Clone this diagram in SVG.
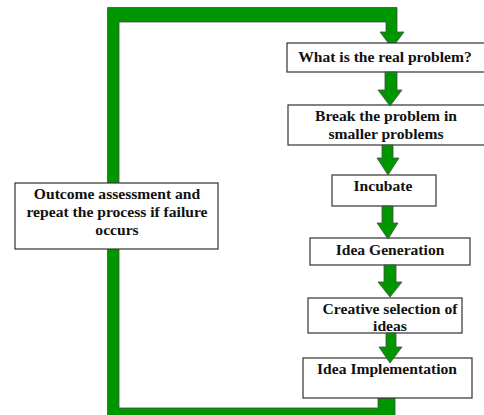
<svg xmlns="http://www.w3.org/2000/svg" width="484" height="415" viewBox="0 0 484 415">
<style>
.box{fill:#fff;stroke:#333;stroke-width:1.2}
.arr{fill:#009600;stroke:#4a4a4a;stroke-width:0.8}
text{font-family:"Liberation Serif","Times New Roman",serif;font-weight:bold;font-size:15.6px;fill:#111;text-anchor:middle}
</style>
<rect width="484" height="415" fill="#fff"/>
<g id="connectors">
<path id="loop" class="arr" d="M107.5,7.5 H397 V32 H404 L392,48 L380,32 H386 V22 H119 V408 H378 V398 H395 V418 H107.5 Z"/>
</g>
<g id="n1"><rect class="box" x="287" y="43" width="210" height="29"/><text x="385" y="62">What is the real problem?</text></g>
<g id="n2"><rect class="box" x="288" y="105" width="210" height="40"/><text x="386" y="121">Break the problem in</text><text x="386" y="139">smaller problems</text></g>
<g id="n3"><rect class="box" x="332" y="175" width="104" height="31"/><text x="383" y="191">Incubate</text></g>
<g id="n4"><rect class="box" x="310" y="238" width="160" height="27"/><text x="390" y="255">Idea Generation</text></g>
<g id="n5"><rect class="box" x="308" y="298" width="154" height="35"/><text x="390" y="314">Creative selection of</text><text x="390" y="331">ideas</text></g>
<g id="n6"><rect class="box" x="303" y="358" width="169" height="40"/></g>
<g id="n7"><rect class="box" x="15" y="183" width="203" height="66"/><text x="117" y="199">Outcome assessment and</text><text x="117" y="217">repeat the process if failure</text><text x="117" y="235">occurs</text></g>
<g id="arrows">
<path class="arr" d="M385,72 H397 V90 H402 L390,106 L378,90 H385 Z"/>
<path class="arr" d="M382,145 H393 V158 H399 L388,175 L377,158 H382 Z"/>
<path class="arr" d="M382,206 H393 V223 H398 L388,239 L377,223 H382 Z"/>
<path class="arr" d="M384,265 H396 V282 H402 L390,297 L378,282 H384 Z"/>
<path class="arr" d="M386,333 H396 V347 H402 L390,363 L379,347 H386 Z"/>
</g>
<g id="n6-label"><text x="387" y="374">Idea Implementation</text></g>
</svg>
